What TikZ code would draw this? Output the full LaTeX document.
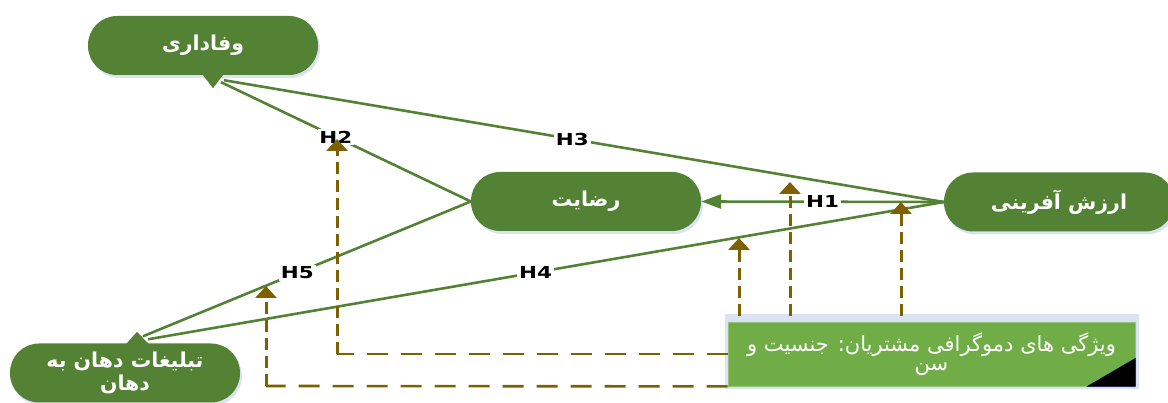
\documentclass[tikz,border=0pt]{standalone}
\usepackage{fontspec}
\usetikzlibrary{arrows.meta,shadows}
\TeXXeTstate=1
\newfontfamily\fatext[Script=Arabic]{DejaVu Sans}
\newfontfamily\latinlab[FakeStretch=1.3]{DejaVu Sans}
\newcommand{\rl}[1]{\beginR #1\endR}
\definecolor{nodegreen}{HTML}{548235}
\definecolor{boxgreen}{HTML}{70AD47}
\definecolor{haze}{HTML}{DAE3F3}
\definecolor{modbrown}{HTML}{7F6000}
\begin{document}
\begin{tikzpicture}[x=1pt,y=-1pt,
  stage/.style={rectangle, rounded corners=29pt, minimum width=230pt,
    minimum height=59pt, fill=nodegreen, text=white, align=center,
    font=\fatext\bfseries\fontsize{20.5}{23}\selectfont,
    drop shadow={shadow xshift=2pt, shadow yshift=-3pt, fill=haze, opacity=1}},
  demobox/.style={rectangle, minimum width=407pt, minimum height=64pt,
    inner sep=0pt, fill=boxgreen, draw=boxgreen!75!white, line width=0.8pt,
    text=white, align=center, font=\fatext\fontsize{21}{19}\selectfont},
  link/.style={draw=nodegreen, line width=2.6pt},
  hyp/.style={fill=white, inner sep=1.8pt, text=black,
    font=\latinlab\bfseries\fontsize{16.5}{16.5}\selectfont},
  modv/.style={draw=modbrown, line width=3pt, dash pattern=on 12pt off 6pt,
    -{Triangle[width=21pt,length=12pt]}},
  modh/.style={draw=modbrown, line width=2.6pt, dash pattern=on 21pt off 13pt}
]
\useasboundingbox (0,0) rectangle (1168,403);

% constructs
\node[stage] (va) at (203,45.5) {\rl{وفاداری}};
\node[stage] (re) at (586,201.5) {\rl{رضایت}};
\node[stage] (ar) at (1059,202) {\rl{ارزش آفرینی}};
\node[stage] (tb) at (125,373) {\rl{تبلیغات دهان به}\\\rl{دهان}};

% callout pointers of the two outcome ovals
\fill[nodegreen] ([shift={(-3,-4)}]va.south) -- ([shift={(23,-4)}]va.south)
  -- ([shift={(10,13)}]va.south) -- cycle;
\fill[nodegreen] ([shift={(0,2)}]tb.north) -- ([shift={(12,-11.5)}]tb.north)
  -- ([shift={(25,2)}]tb.north) -- cycle;

\coordinate (vaend2) at ([shift={(18,7)}]va.south);
\coordinate (vaend3) at ([shift={(21,5)}]va.south);
\coordinate (tbend5) at ([shift={(18,-7)}]tb.north);
\coordinate (tbend4) at ([shift={(23,-4)}]tb.north);

% hypotheses
\draw[link,-{Triangle[length=20pt,width=14pt]}] (ar.west) -- node[hyp,pos=0.5]{H1} (re.east);
\draw[link] (re.west) -- node[hyp,pos=0.54]{H2} (vaend2);
\draw[link] (ar.west) -- node[hyp,pos=0.516]{H3} (vaend3);
\draw[link] (ar.west) -- node[hyp,pos=0.513]{H4} (tbend4);
\draw[link] (re.west) -- node[hyp,pos=0.529]{H5} (tbend5);

% moderator box
\fill[haze] (725,314) rectangle (1139,389);
\node[demobox] (demo) at (931.5,354)
  {\rl{ویژگی های دموگرافی مشتریان: جنسیت و}\\\rl{سن}};
\filldraw[fill=black, draw=black!70!blue, line width=0.6pt]
  ([shift={(-48,0)}]demo.south east) -- ([shift={(0,-28)}]demo.south east)
  -- (demo.south east) -- cycle;

% moderating effects
\coordinate (boxtop) at ([shift={(0,-6)}]demo.north);
\coordinate (t2) at (337,139);
\coordinate (k2) at (337,354);
\coordinate (t5) at (266,286);
\coordinate (k5) at (266,386);
\coordinate (tA) at (739,238);
\coordinate (tB) at (790,182);
\coordinate (tC) at (901,202);

\draw[modh] (demo.west) -- (k2);
\draw[modv] (k2) -- (t2);
\draw[modh] (demo.south west) -- (k5);
\draw[modv] (k5) -- (t5);
\draw[modv] (tA |- boxtop) -- (tA);
\draw[modv] (tB |- boxtop) -- (tB);
\draw[modv] (tC |- boxtop) -- (tC);
\end{tikzpicture}
\end{document}
